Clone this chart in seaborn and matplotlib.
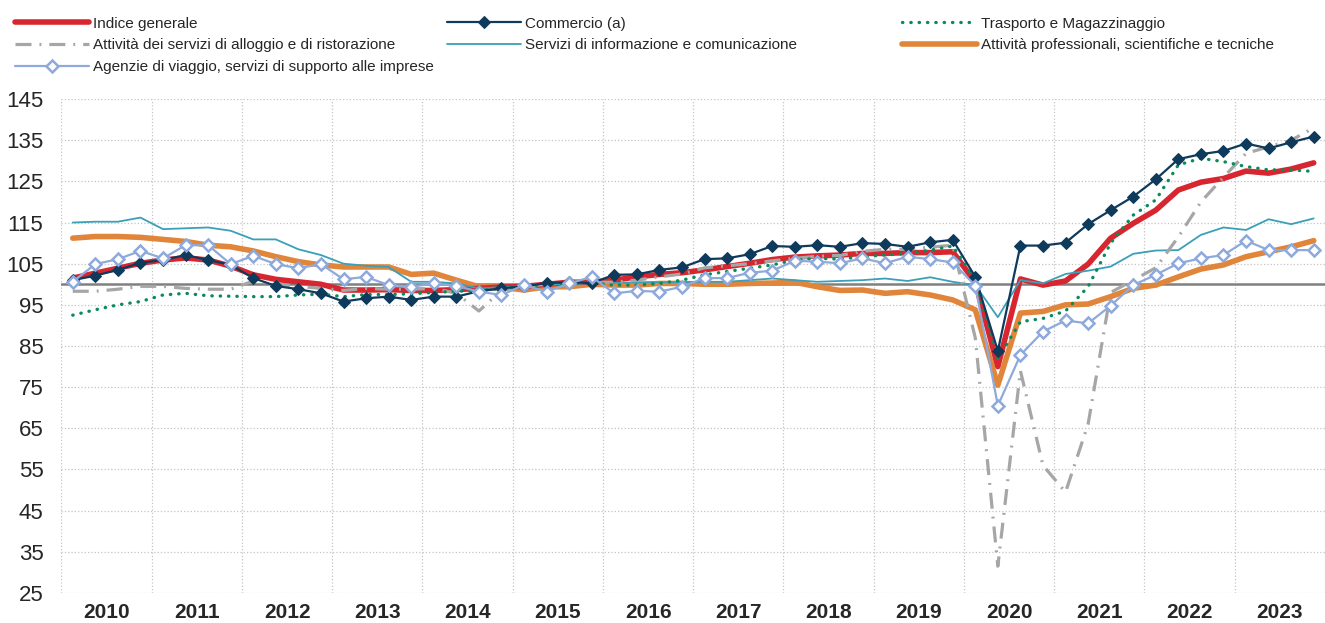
import numpy as np
import matplotlib
matplotlib.use('Agg')
import matplotlib.pyplot as plt
import seaborn as sns

# ==========================
# dati trimestrali 2010T1 - 2023T4 (indice 2015=100)
# ==========================
anni = [str(a) for a in range(2010, 2024)]
trimestri = np.arange(len(anni) * 4)

indice_generale = [
    101.5, 102.7, 103.9, 105.1,
    105.9, 106.4, 105.9, 104.4,
    102.3, 101.2, 100.6, 100.0,
    98.6, 98.6, 98.7, 98.5,
    98.5, 98.7, 99.0, 99.3,
    99.5, 100.0, 100.5, 100.5,
    101.0, 101.8, 102.4, 102.8,
    103.5, 104.3, 105.1, 106.0,
    106.6, 106.9, 107.1, 107.5,
    107.5, 107.7, 107.7, 107.9,
    100.5, 80.0, 101.3, 99.8,
    100.8, 104.9, 111.2, 114.8,
    118.0, 122.9, 124.8, 125.7,
    127.5, 127.0, 128.0, 129.5,
]
commercio = [
    101.0, 102.1, 103.5, 105.2,
    105.9, 107.1, 105.9, 104.7,
    101.5, 99.6, 98.8, 97.8,
    95.8, 96.6, 97.0, 96.2,
    97.0, 97.0, 98.3, 99.0,
    99.5, 100.3, 100.5, 100.3,
    102.3, 102.4, 103.5, 104.1,
    106.1, 106.3, 107.3, 109.3,
    109.1, 109.5, 109.1, 110.0,
    109.8, 109.1, 110.2, 110.8,
    101.8, 83.8, 109.4, 109.4,
    110.1, 114.6, 118.0, 121.3,
    125.5, 130.4, 131.6, 132.4,
    134.2, 133.0, 134.5, 135.9,
]
trasporto = [
    92.5, 93.8, 95.0, 95.8,
    97.4, 97.8, 97.2, 97.1,
    97.0, 97.0, 97.4, 97.6,
    97.0, 97.5, 97.5, 97.7,
    98.0, 98.3, 98.5, 99.0,
    99.5, 100.0, 100.3, 100.3,
    99.8, 99.8, 100.2, 101.0,
    102.3, 103.1, 103.9, 104.7,
    105.9, 106.3, 106.1, 106.7,
    107.1, 107.5, 108.3, 109.3,
    101.0, 82.0, 90.9, 91.7,
    93.5, 99.4, 110.0, 116.8,
    120.5, 129.0, 130.6, 129.8,
    128.6, 127.8, 127.8, 127.4,
]
alloggio = [
    98.3, 98.3, 98.8, 99.5,
    99.5, 99.0, 98.8, 98.8,
    100.8, 100.0, 99.5, 99.0,
    98.5, 99.0, 98.8, 98.8,
    99.0, 97.8, 93.5, 98.5,
    99.5, 100.0, 100.3, 100.5,
    100.5, 101.0, 101.8, 102.5,
    104.0, 104.5, 105.0, 105.7,
    106.3, 106.8, 107.0, 108.0,
    108.5, 108.5, 109.0, 109.5,
    87.0, 31.5, 79.0, 56.0,
    49.5, 66.0, 98.0, 101.0,
    104.0, 111.5, 120.0, 126.0,
    131.8, 133.4, 135.0, 138.0,
]
informazione = [
    115.0, 115.2, 115.2, 116.2,
    113.4, 113.6, 113.8, 113.0,
    110.9, 110.9, 108.5, 107.1,
    105.0, 104.5, 104.2, 100.6,
    100.6, 100.2, 99.0, 99.3,
    99.5, 100.0, 100.0, 100.3,
    100.3, 100.5, 100.5, 100.5,
    100.6, 100.6, 101.0, 101.4,
    101.0, 100.6, 100.8, 101.0,
    101.4, 100.8, 101.7, 100.6,
    99.8, 92.0, 101.0, 100.2,
    102.5, 103.3, 104.3, 107.4,
    108.2, 108.3, 112.0, 113.8,
    113.2, 115.8, 114.6, 116.0,
]
professionali = [
    111.2, 111.6, 111.6, 111.4,
    110.9, 110.4, 109.5, 109.1,
    108.1, 106.7, 105.5, 104.7,
    104.2, 104.2, 104.2, 102.4,
    102.7, 101.0, 99.4, 99.3,
    98.6, 99.4, 99.4, 100.0,
    99.8, 99.8, 100.2, 100.2,
    100.0, 100.0, 100.2, 100.3,
    100.5, 99.4, 98.5, 98.6,
    97.8, 98.2, 97.4, 96.2,
    93.8, 75.5, 93.0, 93.4,
    95.0, 95.2, 97.0, 99.0,
    99.8, 101.8, 103.7, 104.7,
    106.7, 107.9, 109.1, 110.6,
]
agenzie = [
    100.6, 104.9, 106.1, 108.1,
    106.3, 109.5, 109.5, 104.9,
    106.9, 104.9, 103.9, 104.9,
    101.2, 101.8, 99.8, 99.4,
    100.2, 99.6, 98.2, 97.4,
    99.8, 98.2, 100.2, 101.8,
    97.8, 98.4, 98.2, 99.4,
    101.5, 101.5, 102.8, 103.3,
    105.7, 105.5, 105.1, 106.3,
    105.1, 106.7, 106.1, 105.3,
    99.7, 70.5, 82.8, 88.5,
    91.2, 90.5, 94.8, 99.8,
    102.3, 105.1, 106.3, 107.1,
    110.6, 108.3, 108.3, 108.3,
]

# ==========================
# stile
# ==========================
sns.set_style('white')
plt.rcParams['font.family'] = ['Liberation Sans Narrow', 'Liberation Sans', 'DejaVu Sans']

fig = plt.figure(figsize=(13.25, 6.23), dpi=100)
ax = fig.add_axes([0.0464, 0.0482, 1 - 0.0464, 0.841 - 0.0482])

ax.axhline(100, color='#808080', lw=1.8, zorder=1.5)

sns.lineplot(x=trimestri, y=professionali, ax=ax, color='#e0853a', lw=4.0,
             label='Attività professionali, scientifiche e tecniche', zorder=2)
sns.lineplot(x=trimestri, y=indice_generale, ax=ax, color='#d7262f', lw=4.0,
             label='Indice generale', zorder=3)
sns.lineplot(x=trimestri, y=informazione, ax=ax, color='#3aa0b8', lw=1.3,
             label='Servizi di informazione e comunicazione', zorder=4)
sns.lineplot(x=trimestri, y=alloggio, ax=ax, color='#a6a6a6', lw=2.3,
             ls=(0, (5, 2.5, 0.6, 2.5)),
             label='Attività dei servizi di alloggio e di ristorazione', zorder=4)
sns.lineplot(x=trimestri, y=trasporto, ax=ax, color='#0b8a5a', lw=2.4,
             ls=(0, (0.1, 2.4)), dash_capstyle='round',
             label='Trasporto e Magazzinaggio', zorder=5)
sns.lineplot(x=trimestri, y=commercio, ax=ax, color='#0e3a5c', lw=1.6,
             marker='D', markersize=6, markeredgecolor='#0e3a5c',
             label='Commercio (a)', zorder=6)
sns.lineplot(x=trimestri, y=agenzie, ax=ax, color='#8eaadb', lw=1.6,
             marker='D', markersize=6.5, markerfacecolor='white',
             markeredgecolor='#8eaadb', markeredgewidth=1.8,
             label='Agenzie di viaggio, servizi di supporto alle imprese', zorder=7)

# ==========================
# assi
# ==========================
ax.set_xlim(-0.5, 55.06)
ax.set_ylim(25, 145)
ax.set_yticks(np.arange(25, 146, 10))
ax.set_xticks(np.arange(-0.5, 56, 4))
ax.set_xticklabels([])
ax.set_xticks(np.arange(1.5, 56, 4), minor=True)
ax.set_xticklabels(anni, minor=True, fontweight='bold', fontsize=15)
ax.tick_params(axis='x', which='both', length=0, pad=7)
ax.tick_params(axis='y', length=0, pad=13, labelsize=16)
ax.grid(True, which='major', axis='both', color='#c4c4c4', ls=':', lw=0.9)
ax.set_xlabel('')
ax.set_ylabel('')
for s in ax.spines.values():
    s.set_visible(False)

# ==========================
# legenda su tre colonne
# ==========================
handles, labels = ax.get_legend_handles_labels()
if ax.get_legend() is not None:
    ax.get_legend().remove()
lookup = dict(zip(labels, handles))
colonne = [
    (0.011, ['Indice generale',
             'Attività dei servizi di alloggio e di ristorazione',
             'Agenzie di viaggio, servizi di supporto alle imprese']),
    (0.337, ['Commercio (a)',
             'Servizi di informazione e comunicazione']),
    (0.681, ['Trasporto e Magazzinaggio',
             'Attività professionali, scientifiche e tecniche']),
]
for xpos, nomi in colonne:
    fig.legend([lookup[n] for n in nomi], nomi, loc='upper left',
               bbox_to_anchor=(xpos, 0.973), frameon=False, fontsize=11,
               borderpad=0, borderaxespad=0, handlelength=4.9,
               handletextpad=0.22, labelspacing=0.5)

fig.savefig('out.png', dpi=100)
plt.close(fig)
